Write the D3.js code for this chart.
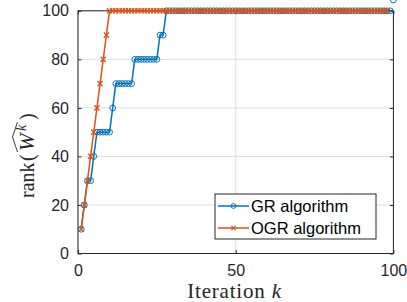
<!DOCTYPE html>
<html><head><meta charset="utf-8">
<script src="https://cdn.jsdelivr.net/npm/d3@7"></script>
<style>body{margin:0;background:#fff} svg{display:block}</style>
</head><body>
<svg id="c" width="407" height="302"></svg>
<script>
// ---- data ----
const iterations = d3.range(1, 101);
const grRank = [10,20,30,30,40,50,50,50,50,50,60,70,70,70,70,70,70,80,80,80,80,80,80,80,80,90,90,
  100,100,100,100,100,100,100,100,100,100,100,100,100,100,100,100,100,100,100,100,100,100,100,100,
  100,100,100,100,100,100,100,100,100,100,100,100,100,100,100,100,100,100,100,100,100,100,100,100,
  100,100,100,100,100,100,100,100,100,100,100,100,100,100,100,100,100,100,100,100,100,100,100,100];
const ogrRank = [10,20,30,40,50,60,70,80,90,
  100,100,100,100,100,100,100,100,100,100,100,100,100,100,100,100,100,100,100,100,100,100,100,100,
  100,100,100,100,100,100,100,100,100,100,100,100,100,100,100,100,100,100,100,100,100,100,100,100,
  100,100,100,100,100,100,100,100,100,100,100,100,100,100,100,100,100,100,100,100,100,100,100,100,
  100,100,100,100,100,100,100,100,100,100,100,100,100,100,100,100,100];
const xTicks = [0, 50, 100];
const yTicks = [0, 20, 40, 60, 80, 100];
const seriesNames = ["GR algorithm", "OGR algorithm"];

// ---- layout ----
const svg = d3.select("#c");
const L = 78, R = 393.4, T = 10.8, B = 253.5;
const x = d3.scaleLinear().domain([0, 100]).range([L, R]);
const y = d3.scaleLinear().domain([0, 100]).range([B, T]);
const ink = "#262626";
const blue = "#0072BD", orange = "#D95319";
const tickFont = "'Liberation Sans', Arial, sans-serif";

// grid
const grid = svg.append("g").attr("stroke", "#dfdfdf").attr("stroke-width", 1);
grid.selectAll(".gx").data(xTicks).join("line")
  .attr("x1", d => x(d)).attr("x2", d => x(d)).attr("y1", T).attr("y2", B);
grid.selectAll(".gy").data(yTicks).join("line")
  .attr("x1", L).attr("x2", R).attr("y1", d => y(d)).attr("y2", d => y(d));

// axes
function styleAxis(g, labels) {
  g.select(".domain").remove();
  g.selectAll(".tick line").attr("stroke", ink);
  g.selectAll(".tick text").attr("fill", ink).style("font-family", tickFont).style("font-size", "16px");
  if (!labels) g.selectAll(".tick text").remove();
}
svg.append("g").attr("transform", `translate(0,${B})`)
  .call(d3.axisBottom(x).tickValues(xTicks).tickSizeInner(-3.5).tickSizeOuter(0).tickPadding(11.5))
  .call(g => styleAxis(g, true));
svg.append("g").attr("transform", `translate(0,${T})`)
  .call(d3.axisTop(x).tickValues(xTicks).tickSizeInner(-3.5).tickSizeOuter(0))
  .call(g => styleAxis(g, false));
svg.append("g").attr("transform", `translate(${L},0)`)
  .call(d3.axisLeft(y).tickValues(yTicks).tickSizeInner(-3.5).tickSizeOuter(0).tickPadding(9))
  .call(g => styleAxis(g, true));
svg.append("g").attr("transform", `translate(${R},0)`)
  .call(d3.axisRight(y).tickValues(yTicks).tickSizeInner(-3.5).tickSizeOuter(0))
  .call(g => styleAxis(g, false));
svg.append("rect").attr("x", L).attr("y", T).attr("width", R - L).attr("height", B - T)
  .attr("fill", "none").attr("stroke", ink).attr("stroke-width", 1);

// series
const line = d3.line().x(d => x(d[0])).y(d => y(d[1]));
const grData = iterations.map((k, i) => [k, grRank[i]]);
const ogrData = iterations.map((k, i) => [k, ogrRank[i]]);

function circleMarkers(g, data) {
  g.selectAll("circle").data(data).join("circle")
    .attr("cx", d => x(d[0])).attr("cy", d => y(d[1])).attr("r", 2.9)
    .attr("fill", "none").attr("stroke", blue).attr("stroke-width", 1);
}
function crossMarkers(g, data, s) {
  g.selectAll("path").data(data).join("path")
    .attr("d", d => {
      const cx = x(d[0]), cy = y(d[1]);
      return `M${cx - s},${cy - s}L${cx + s},${cy + s}M${cx - s},${cy + s}L${cx + s},${cy - s}`;
    })
    .attr("fill", "none").attr("stroke", orange).attr("stroke-width", 1.3);
}

const gGR = svg.append("g");
gGR.append("path").datum(grData).attr("d", line).attr("fill", "none").attr("stroke", blue).attr("stroke-width", 1.5);
circleMarkers(gGR.append("g"), grData);

const gOGR = svg.append("g");
gOGR.append("path").datum(ogrData).attr("d", line).attr("fill", "none").attr("stroke", orange).attr("stroke-width", 1.5);
crossMarkers(gOGR.append("g"), ogrData, 2.6);

// legend
const lg = svg.append("g");
lg.append("rect").attr("x", 215).attr("y", 194).attr("width", 161).attr("height", 45)
  .attr("fill", "#fff").attr("stroke", ink).attr("stroke-width", 1);
const rows = [206, 228];
seriesNames.forEach((name, i) => {
  const ry = rows[i];
  const col = i === 0 ? blue : orange;
  lg.append("line").attr("x1", 218).attr("x2", 249).attr("y1", ry).attr("y2", ry)
    .attr("stroke", col).attr("stroke-width", 1.5);
  if (i === 0) {
    lg.append("circle").attr("cx", 233.5).attr("cy", ry).attr("r", 2.4)
      .attr("fill", "none").attr("stroke", blue).attr("stroke-width", 1);
  } else {
    const s = 2.1;
    lg.append("path").attr("d", `M${233.5 - s},${ry - s}L${233.5 + s},${ry + s}M${233.5 - s},${ry + s}L${233.5 + s},${ry - s}`)
      .attr("stroke", orange).attr("stroke-width", 1.2);
  }
  lg.append("text").attr("x", 251).attr("y", ry).attr("dy", "0.36em")
    .style("font-family", "'Liberation Sans', Arial, sans-serif").style("font-size", "16.5px")
    .attr("fill", "#000").text(name);
});

// x label
const xl = svg.append("text").attr("x", 234.5).attr("y", 298).attr("text-anchor", "middle")
  .style("font-family", "'Liberation Serif', serif").style("font-size", "21px")
  .style("letter-spacing", "0.8px").attr("fill", ink);
xl.append("tspan").text("Iteration ");
xl.append("tspan").style("font-style", "italic").text("k");

// y label (rotated)
const yl = svg.append("g").attr("transform", "translate(33.5,198) rotate(-90)")
  .style("font-family", "'Liberation Serif', serif").attr("fill", ink);
yl.append("text").attr("x", 0).attr("y", 0).style("font-size", "20px").text("rank");
yl.append("text").attr("x", 37).attr("y", 0).style("font-size", "20px").text("(");
yl.append("text").attr("x", 47).attr("y", 0).style("font-size", "21px").style("font-style", "italic").text("W");
yl.append("text").attr("x", 67).attr("y", -8).style("font-size", "14px").style("font-style", "italic").text("k");
yl.append("text").attr("x", 78).attr("y", 0).style("font-size", "20px").text(")");
yl.append("path").attr("d", "M46,-16 L61,-21 L76,-16").attr("fill", "none").attr("stroke", ink).attr("stroke-width", 0.9);
</script>
</body></html>
